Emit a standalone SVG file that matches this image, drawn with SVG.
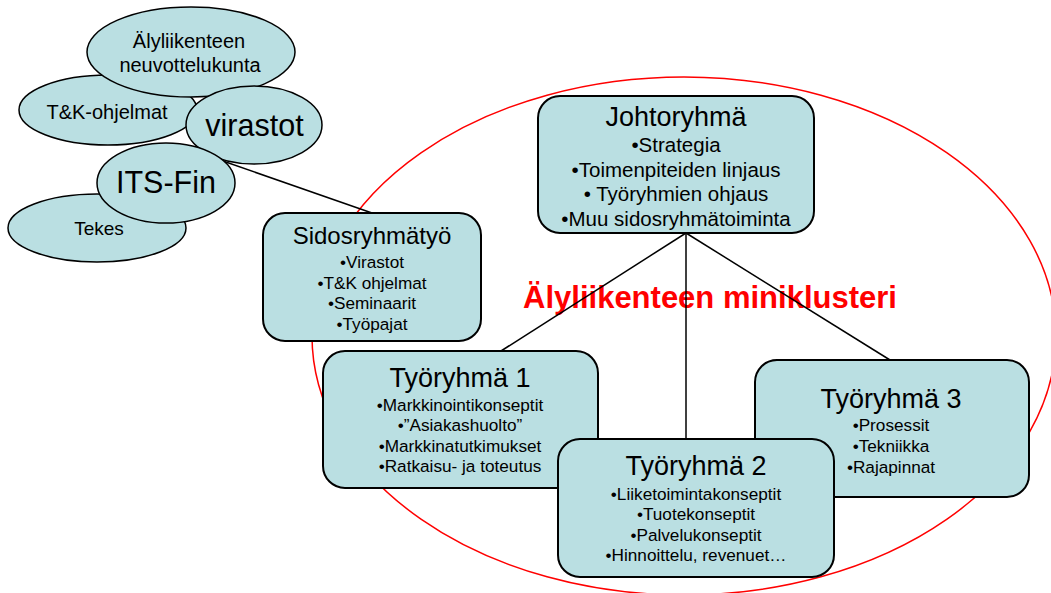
<svg xmlns="http://www.w3.org/2000/svg" width="1051" height="593" viewBox="0 0 1051 593">
  <style>
    text { font-family: "Liberation Sans", Arial, sans-serif; fill: #000; text-anchor: middle; }
    .bubble { fill: #badfe2; stroke: #000; stroke-width: 1.5; }
    .box { fill: #badfe2; stroke: #000; stroke-width: 2; }
    .link { stroke: #000; stroke-width: 1.5; fill: none; }
    .title { font-size: 27px; }
    .item { font-size: 17.2px; }
    .item-lg { font-size: 20.5px; }
    .bub-sm { font-size: 20px; }
    .bub-lg { font-size: 30.5px; }
  </style>

  <!-- cluster boundary and its label -->
  <g id="cluster">
    <ellipse cx="684" cy="336" rx="372" ry="259" fill="none" stroke="#ff0000" stroke-width="1.5"/>
    <text x="710" y="308" style="font-size:31px;font-weight:bold;fill:#ff0000">Älyliikenteen miniklusteri</text>
  </g>

  <!-- connectors -->
  <g id="connectors">
    <line class="link" x1="220" y1="160" x2="372" y2="213"/>
    <line class="link" x1="686" y1="233" x2="501" y2="351"/>
    <line class="link" x1="686" y1="233" x2="686" y2="439"/>
    <line class="link" x1="686" y1="233" x2="890" y2="360"/>
  </g>

  <!-- stakeholder bubbles -->
  <g id="tk-ohjelmat">
    <ellipse class="bubble" cx="108" cy="110" rx="89" ry="35"/>
    <text class="bub-sm" x="107" y="119">T&amp;K-ohjelmat</text>
  </g>
  <g id="neuvottelukunta">
    <ellipse class="bubble" cx="191" cy="52" rx="104" ry="45"/>
    <text class="bub-sm" x="189" y="48">Älyliikenteen</text>
    <text class="bub-sm" x="190" y="72">neuvottelukunta</text>
  </g>
  <g id="virastot">
    <ellipse class="bubble" cx="254" cy="125" rx="68" ry="39"/>
    <text class="bub-lg" x="254.5" y="136">virastot</text>
  </g>
  <g id="tekes">
    <ellipse class="bubble" cx="97" cy="228" rx="89" ry="34"/>
    <text class="bub-sm" x="99" y="235" style="font-size:19px">Tekes</text>
  </g>
  <g id="its-fin">
    <ellipse class="bubble" cx="166" cy="183" rx="69" ry="40"/>
    <text class="bub-lg" x="166" y="193">ITS-Fin</text>
  </g>

  <!-- working groups -->
  <g id="sidosryhmatyo">
    <rect class="box" x="263" y="213" width="218" height="128" rx="22"/>
    <text x="372" y="244" style="font-size:24px">Sidosryhmätyö</text>
    <text class="item" x="372" y="268">•Virastot</text>
    <text class="item" x="372" y="288.5">•T&amp;K ohjelmat</text>
    <text class="item" x="372" y="309">•Seminaarit</text>
    <text class="item" x="372" y="329.5">•Työpajat</text>
  </g>

  <g id="johtoryhma">
    <rect class="box" x="538" y="96" width="276" height="137" rx="22"/>
    <text class="title" x="676" y="126">Johtoryhmä</text>
    <text class="item-lg" x="676" y="152">•Strategia</text>
    <text class="item-lg" x="676" y="176.5">•Toimenpiteiden linjaus</text>
    <text class="item-lg" x="676" y="201">• Työryhmien ohjaus</text>
    <text class="item-lg" x="676" y="225.5">•Muu sidosryhmätoiminta</text>
  </g>

  <g id="tyoryhma-1">
    <rect class="box" x="323" y="351" width="275" height="137" rx="22"/>
    <text class="title" x="460" y="387">Työryhmä 1</text>
    <text class="item" x="460" y="410.5">•Markkinointikonseptit</text>
    <text class="item" x="460" y="431">•”Asiakashuolto”</text>
    <text class="item" x="460" y="451.5">•Markkinatutkimukset</text>
    <text class="item" x="460" y="472">•Ratkaisu- ja toteutus</text>
  </g>

  <g id="tyoryhma-3">
    <rect class="box" x="755" y="360" width="274" height="137" rx="22"/>
    <text class="title" x="891" y="408">Työryhmä 3</text>
    <text class="item" x="891" y="431">•Prosessit</text>
    <text class="item" x="891" y="451.5">•Tekniikka</text>
    <text class="item" x="891" y="472.5">•Rajapinnat</text>
  </g>

  <g id="tyoryhma-2">
    <rect class="box" x="558" y="439" width="276" height="138" rx="22"/>
    <text class="title" x="696" y="475">Työryhmä 2</text>
    <text class="item" x="696" y="499.5">•Liiketoimintakonseptit</text>
    <text class="item" x="696" y="520">•Tuotekonseptit</text>
    <text class="item" x="696" y="540.5">•Palvelukonseptit</text>
    <text class="item" x="696" y="561">•Hinnoittelu, revenuet…</text>
  </g>
</svg>
